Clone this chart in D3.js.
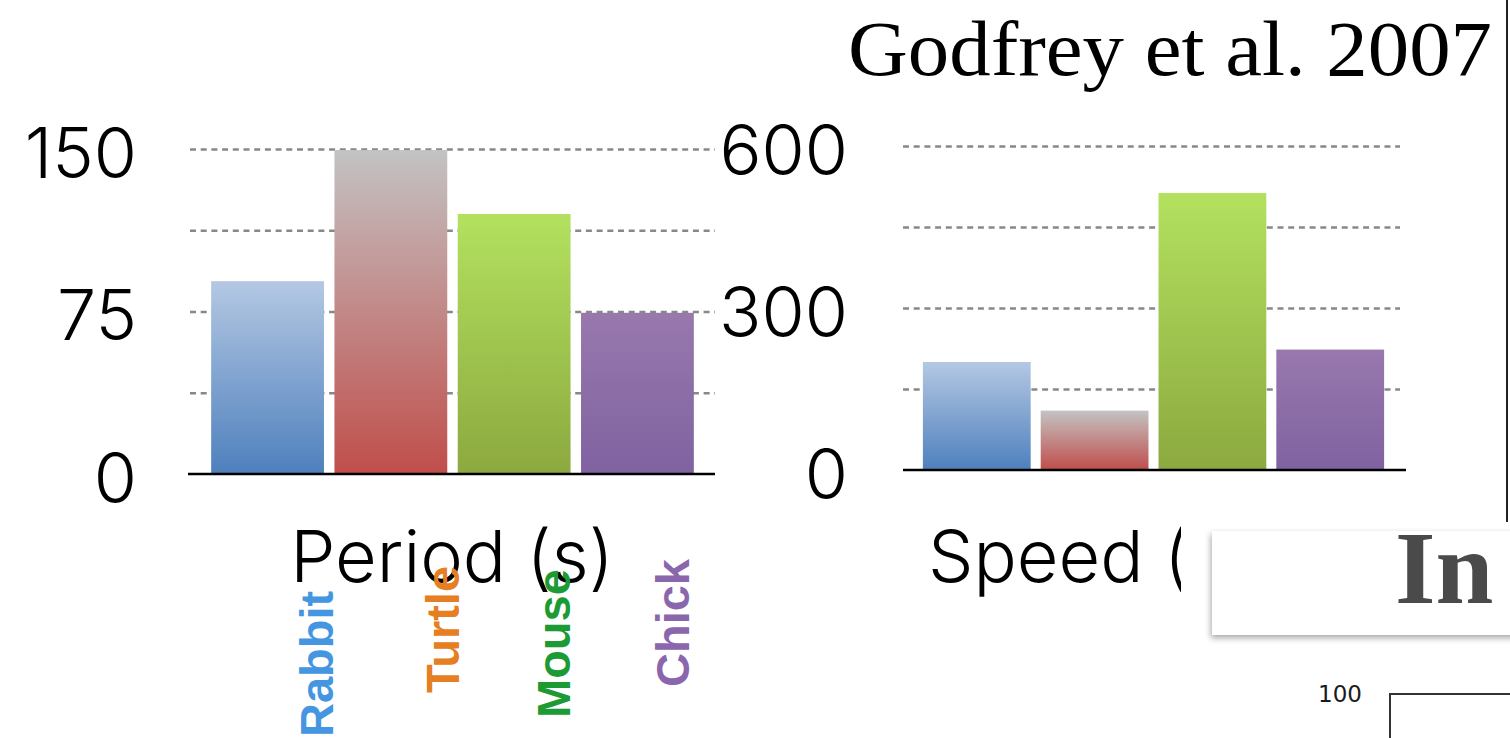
<!DOCTYPE html>
<html><head><meta charset="utf-8">
<script src="https://cdn.jsdelivr.net/npm/d3@7"></script>
<style>html,body{margin:0;padding:0;background:#fff;overflow:hidden}</style>
</head><body>
<svg id="c" width="1510" height="738"></svg>
<script>
// ---- data ----
const categories = ["Rabbit", "Turtle", "Mouse", "Chick"];
const periodValues = [89, 149.5, 120, 74.4];
const speedValues = [200, 110, 513, 223];
const periodTicks = [0, 75, 150];
const periodGrid = [37.5, 75, 112.5, 150];
const speedTicks = [0, 300, 600];
const speedGrid = [150, 300, 450, 600];
const periodTitle = "Period (s)";
const speedTitle = "Speed (mm/s)";
const title = "Godfrey et al. 2007";
const overlayTitle = "In";
const nextTick = "100";

// ---- styles / layout ----
const labelColors = ["#4596e0", "#e67e22", "#1c9a34", "#8a66ad"];
const gradTop = ["#b4c8e3", "#c3c3c3", "#b3e15f", "#9878ad"];
const gradBottom = ["#4e80bd", "#c04e4b", "#8ca93f", "#7f62a0"];
const labelOffsets = [[65, 737], [68, 693], [56, 718], [52, 687]];
const tickFont = "'Inter','Liberation Sans',sans-serif";

const svg = d3.select("#c");
const defs = svg.append("defs");

const shadow = defs.append("filter").attr("id", "shadow")
  .attr("x", "-10%").attr("y", "-20%").attr("width", "130%").attr("height", "150%");
shadow.append("feDropShadow").attr("dx", -1).attr("dy", 3).attr("stdDeviation", 3)
  .attr("flood-color", "#000").attr("flood-opacity", 0.35);

defs.append("clipPath").attr("id", "speedClip")
  .append("rect").attr("x", 0).attr("y", 480).attr("width", 1181).attr("height", 200);

categories.forEach((c, i) => {
  const g = defs.append("linearGradient").attr("id", "grad" + i)
    .attr("x1", 0).attr("y1", 0).attr("x2", 0).attr("y2", 1);
  g.append("stop").attr("offset", "0%").attr("stop-color", gradTop[i]);
  g.append("stop").attr("offset", "100%").attr("stop-color", gradBottom[i]);
});

function drawChart(cfg) {
  const x = d3.scaleBand().domain(categories).range(cfg.xRange)
    .paddingInner(0.085).paddingOuter(0.05);
  const y = d3.scaleLinear().domain(cfg.domain).range(cfg.yRange);
  const g = svg.append("g");

  // gridlines
  const grid = g.append("g")
    .attr("transform", `translate(${cfg.gridX[0]},0)`)
    .call(d3.axisLeft(y).tickValues(cfg.grid).tickSize(-(cfg.gridX[1] - cfg.gridX[0])).tickFormat(""));
  grid.select(".domain").remove();
  grid.selectAll(".tick line").attr("stroke", "#888").attr("stroke-width", 2.5)
    .attr("stroke-dasharray", "6,4.7");

  // bars
  g.selectAll("rect.bar").data(cfg.values).enter().append("rect")
    .attr("class", "bar")
    .attr("x", (d, i) => x(categories[i]))
    .attr("width", x.bandwidth())
    .attr("y", d => y(d))
    .attr("height", d => y(0) - y(d))
    .attr("fill", (d, i) => `url(#grad${i})`);

  // baseline
  g.append("line").attr("x1", cfg.baseX[0]).attr("x2", cfg.baseX[1])
    .attr("y1", y(0)).attr("y2", y(0)).attr("stroke", "#000").attr("stroke-width", 2.5);

  // tick labels
  const ax = g.append("g").attr("transform", `translate(${cfg.tickX},0)`)
    .call(d3.axisLeft(y).tickValues(cfg.ticks).tickSize(0).tickPadding(0).tickFormat(d3.format("d")));
  ax.select(".domain").remove();
  ax.selectAll("text").attr("font-family", tickFont).attr("font-weight", 300)
    .attr("font-size", 70).attr("fill", "#000").attr("dy", "0.4em");

  // axis title
  const t = g.append("text").attr("x", cfg.titleX).attr("y", 582)
    .attr("text-anchor", cfg.titleAnchor)
    .attr("font-family", tickFont).attr("font-weight", 300).attr("font-size", 72)
    .attr("fill", "#000").text(cfg.title);
  if (cfg.clip) t.attr("clip-path", "url(#speedClip)");
  return x;
}

const xPeriod = drawChart({
  values: periodValues, domain: [0, 150], yRange: [474, 149], xRange: [205, 700],
  gridX: [190, 715], baseX: [188, 715], grid: periodGrid, ticks: periodTicks,
  tickX: 137, title: periodTitle, titleX: 452, titleAnchor: "middle"
});
drawChart({
  values: speedValues, domain: [0, 600], yRange: [470, 146], xRange: [917, 1390],
  gridX: [903, 1400], baseX: [903, 1406], grid: speedGrid, ticks: speedTicks,
  tickX: 848, title: speedTitle, titleX: 928, titleAnchor: "start", clip: true
});

// category labels (rotated)
svg.append("g").selectAll("text").data(categories).enter().append("text")
  .attr("transform", (d, i) => {
    const cx = xPeriod(d) + xPeriod.bandwidth() / 2 + labelOffsets[i][0];
    return `translate(${cx},${labelOffsets[i][1]}) rotate(-90)`;
  })
  .attr("font-family", "'Liberation Sans',Arial,sans-serif").attr("font-weight", "bold")
  .attr("font-size", 47).attr("fill", (d, i) => labelColors[i])
  .text(d => d);

// title
svg.append("text").attr("x", 848).attr("y", 75)
  .attr("font-family", "'Liberation Serif','Times New Roman',serif").attr("font-size", 78)
  .attr("textLength", 644).attr("lengthAdjust", "spacingAndGlyphs")
  .attr("fill", "#000").text(title);

// vertical divider
svg.append("line").attr("x1", 1507).attr("x2", 1507).attr("y1", 0).attr("y2", 522)
  .attr("stroke", "#222").attr("stroke-width", 2);

// overlay box
svg.append("rect").attr("x", 1212).attr("y", 531).attr("width", 320).attr("height", 104)
  .attr("fill", "#fff").attr("filter", "url(#shadow)");
svg.append("text").attr("x", 1395).attr("y", 603)
  .attr("font-family", "'Liberation Serif',serif").attr("font-weight", "bold").attr("font-size", 104)
  .attr("fill", "#4a4a4a").text(overlayTitle);

// next plot fragment
svg.append("text").attr("x", 1362).attr("y", 702).attr("text-anchor", "end")
  .attr("font-family", "'DejaVu Sans',sans-serif").attr("font-size", 23).attr("fill", "#1a1a1a")
  .text(nextTick);
svg.append("path").attr("d", "M1390,740V694H1515").attr("fill", "none")
  .attr("stroke", "#333").attr("stroke-width", 2);
</script>
</body></html>
